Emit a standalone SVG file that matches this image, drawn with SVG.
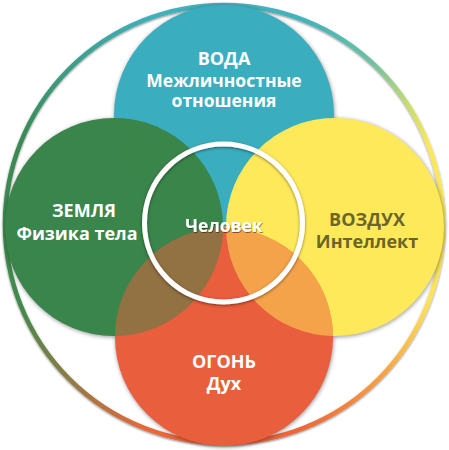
<svg xmlns="http://www.w3.org/2000/svg" width="449" height="450" viewBox="0 0 449 450">
  <style>
    .lbl { font-family: "Open Sans", "Noto Sans", "DejaVu Sans", sans-serif; font-weight: 700; font-size: 18px; text-anchor: middle; fill: #ffffff; }
    .dark { fill: #6b6528; }
    .ring { fill: none; stroke-width: 4.5; }
  </style>
  <defs>
    <linearGradient id="gUL" gradientUnits="userSpaceOnUse" x1="150" y1="17" x2="20" y2="150">
      <stop offset="0" stop-color="#3fb0bb"/>
      <stop offset="1" stop-color="#3a8a52"/>
    </linearGradient>
    <linearGradient id="gUR" gradientUnits="userSpaceOnUse" x1="299" y1="20" x2="429" y2="147">
      <stop offset="0" stop-color="#42b2bc"/>
      <stop offset="0.45" stop-color="#6cc1a2"/>
      <stop offset="0.75" stop-color="#c6dc6c"/>
      <stop offset="1" stop-color="#fbe85a"/>
    </linearGradient>
    <linearGradient id="gLR" gradientUnits="userSpaceOnUse" x1="427" y1="300" x2="299" y2="428">
      <stop offset="0" stop-color="#fde358"/>
      <stop offset="0.45" stop-color="#f7a442"/>
      <stop offset="1" stop-color="#ec663a"/>
    </linearGradient>
    <linearGradient id="gLL" gradientUnits="userSpaceOnUse" x1="20" y1="300" x2="147" y2="430">
      <stop offset="0" stop-color="#3f8a4c"/>
      <stop offset="0.5" stop-color="#8e7c45"/>
      <stop offset="1" stop-color="#ea663a"/>
    </linearGradient>
    <filter id="ringShadow" x="-10%" y="-10%" width="120%" height="120%">
      <feDropShadow dx="0" dy="1" stdDeviation="1.3" flood-color="#000" flood-opacity="0.5"/>
    </filter>
    <filter id="blur" x="-10%" y="-10%" width="120%" height="120%">
      <feGaussianBlur stdDeviation="2.2"/>
    </filter>
    <filter id="whiteShadow" x="-20%" y="-20%" width="140%" height="140%">
      <feDropShadow dx="0" dy="1" stdDeviation="1.5" flood-color="#000" flood-opacity="0.5"/>
    </filter>
    <filter id="textShadow" x="-20%" y="-40%" width="140%" height="180%">
      <feDropShadow dx="0.6" dy="0.8" stdDeviation="0.7" flood-color="#000" flood-opacity="0.6"/>
    </filter>
    <clipPath id="clipTop"><circle cx="224" cy="115" r="110"/></clipPath>
    <clipPath id="clipBottom"><circle cx="224" cy="337" r="109"/></clipPath>
  </defs>

  <rect width="449" height="450" fill="#ffffff"/>

  <g id="outer-ring" filter="url(#ringShadow)">
    <path class="ring" stroke="url(#gUL)" d="M224,5 A219,219 0 0 0 5,224"/>
    <path class="ring" stroke="url(#gUR)" d="M224,5 A219,219 0 0 1 443,224"/>
    <path class="ring" stroke="url(#gLR)" d="M443,224 A219,219 0 0 1 224,443"/>
    <path class="ring" stroke="url(#gLL)" d="M5,224 A219,219 0 0 0 224,443"/>
  </g>

  <g id="circle-shadows" fill="#000" opacity="0.42" filter="url(#blur)">
    <circle cx="224.5" cy="116" r="110"/>
    <circle cx="114.5" cy="228" r="109"/>
    <circle cx="335.5" cy="228" r="109"/>
    <circle cx="224.5" cy="338" r="109"/>
  </g>

  <g id="node-voda">
    <circle cx="224" cy="115" r="110" fill="#3aaebe"/>
    <text class="lbl" x="224" y="65">ВОДА</text>
    <text class="lbl" x="224" y="87" style="font-size:17.5px">Межличностные</text>
    <text class="lbl" x="224" y="106.5" style="font-size:17.5px">отношения</text>
  </g>

  <g id="node-zemlya">
    <circle cx="114" cy="227" r="109" fill="#3a854b"/>
    <text class="lbl" x="84" y="217">ЗЕМЛЯ</text>
    <text class="lbl" x="77" y="240">Физика тела</text>
  </g>

  <g id="node-vozduh">
    <circle cx="335" cy="227" r="109" fill="#fee95b"/>
    <text class="lbl dark" x="367" y="226">ВОЗДУХ</text>
    <text class="lbl dark" x="367" y="248">Интеллект</text>
  </g>

  <g id="node-ogon">
    <circle cx="224" cy="337" r="109" fill="#e95e3c"/>
    <text class="lbl" x="224" y="368">ОГОНЬ</text>
    <text class="lbl" x="224" y="390">Дух</text>
  </g>

  <g id="overlaps" opacity="0.5">
    <circle cx="114" cy="227" r="109" fill="#3a854b" clip-path="url(#clipTop)"/>
    <circle cx="335" cy="227" r="109" fill="#fee95b" clip-path="url(#clipTop)"/>
    <circle cx="114" cy="227" r="109" fill="#3a854b" clip-path="url(#clipBottom)"/>
    <circle cx="335" cy="227" r="109" fill="#fee95b" clip-path="url(#clipBottom)"/>
  </g>

  <g id="node-chelovek">
    <circle cx="223.5" cy="223" r="79" fill="none" stroke="#ffffff" stroke-width="5" filter="url(#whiteShadow)"/>
    <text class="lbl" x="224" y="232" style="font-size:17.5px" filter="url(#textShadow)">Человек</text>
  </g>
</svg>
